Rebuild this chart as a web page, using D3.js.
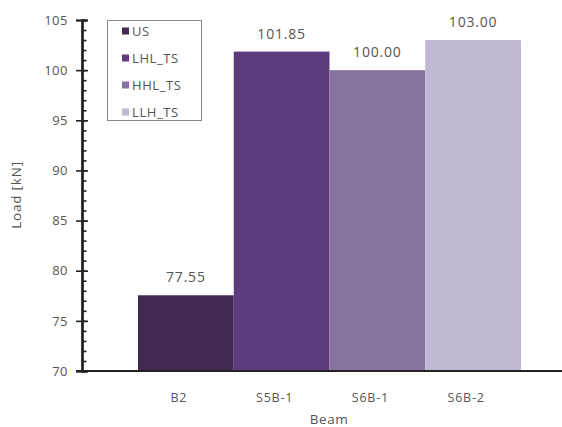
<!DOCTYPE html>
<html><head><meta charset="utf-8">
<script src="https://cdn.jsdelivr.net/npm/d3@7"></script>
<style>body{margin:0;background:#fff}svg{display:block}text{font-family:"Open Sans","DejaVu Sans",sans-serif;fill:#555}</style>
</head><body><svg id="c" width="562" height="427"></svg>
<script>
const categories = ["B2", "S5B-1", "S6B-1", "S6B-2"];
const series = ["US", "LHL_TS", "HHL_TS", "LLH_TS"];
const values = [77.55, 101.85, 100.00, 103.00];
const labels = ["77.55", "101.85", "100.00", "103.00"];
const colors = ["#43284f", "#5d3b7c", "#8574a0", "#c2b8d4"];
const yTicks = [70, 75, 80, 85, 90, 95, 100, 105];

const svg = d3.select("#c");
const y = d3.scaleLinear().domain([70, 105]).range([371, 20]);
const x = d3.scaleBand().domain(categories).range([138, 521]).padding(0);

svg.append("g").selectAll("rect").data(values).join("rect")
  .attr("x", (d, i) => x(categories[i]))
  .attr("width", x.bandwidth())
  .attr("y", d => y(d))
  .attr("height", d => y(70) - y(d))
  .attr("fill", (d, i) => colors[i]);

svg.append("g").selectAll("text").data(values).join("text")
  .attr("x", (d, i) => x(categories[i]) + x.bandwidth() / 2)
  .attr("y", d => y(d) - 13)
  .attr("text-anchor", "middle")
  .attr("font-size", 14).attr("letter-spacing", 0.8)
  .text((d, i) => labels[i]);

// y axis (d3 axes)
const minor = d3.range(70, 105.01, 1);
const gMinor = svg.append("g").attr("transform", "translate(82,0)")
  .call(d3.axisRight(y).tickValues(minor).tickSize(4.5).tickFormat(""));
const gMajR = svg.append("g").attr("transform", "translate(82,0)")
  .call(d3.axisRight(y).tickValues(yTicks).tickSize(6).tickFormat(""));
const gMajL = svg.append("g").attr("transform", "translate(82,0)")
  .call(d3.axisLeft(y).tickValues(yTicks).tickSize(6).tickPadding(8).tickFormat(d3.format("d")));
[gMinor, gMajR, gMajL].forEach(g => {
  g.select(".domain").attr("stroke", "#222").attr("stroke-width", 2);
  g.selectAll(".tick line").attr("stroke", "#222").attr("stroke-width", 1.6);
});
gMajL.selectAll(".tick text").attr("fill", "#555").attr("font-size", 13)
  .attr("letter-spacing", 0.5).style("font-family", "'Open Sans', sans-serif");

// x axis
const gx = svg.append("g").attr("transform", `translate(0,${y(70)})`)
  .call(d3.axisBottom(x).tickSize(0).tickPadding(22));
gx.select(".domain").remove();
gx.append("line").attr("x1", 76).attr("x2", 562).attr("y1", 0).attr("y2", 0)
  .attr("stroke", "#222").attr("stroke-width", 2);
gx.selectAll(".tick text").attr("fill", "#555").attr("font-size", 12.5).attr("dx", -7)
  .attr("letter-spacing", 0.8).style("font-family", "'Open Sans', sans-serif");

svg.append("text").attr("x", 329).attr("y", 424).attr("text-anchor", "middle")
  .attr("font-size", 13.5).attr("letter-spacing", 0.6).text("Beam");
svg.append("text").attr("transform", "translate(21,195) rotate(-90)").attr("text-anchor", "middle")
  .attr("font-size", 13.5).attr("letter-spacing", 0.8).text("Load [kN]");

// legend
const lg = svg.append("g");
lg.append("rect").attr("x", 107.5).attr("y", 20.5).attr("width", 94).attr("height", 100)
  .attr("fill", "#fff").attr("stroke", "#888");
const items = lg.selectAll("g").data(series).join("g")
  .attr("transform", (d, i) => `translate(122,${31 + i * 27})`);
items.append("rect").attr("x", 0).attr("y", -3.5).attr("width", 7).attr("height", 7)
  .attr("fill", (d, i) => colors[i]);
items.append("text").attr("x", 10).attr("y", 0).attr("dy", "0.35em")
  .attr("font-size", 13).attr("letter-spacing", 0.6).text(d => d);
</script></body></html>
